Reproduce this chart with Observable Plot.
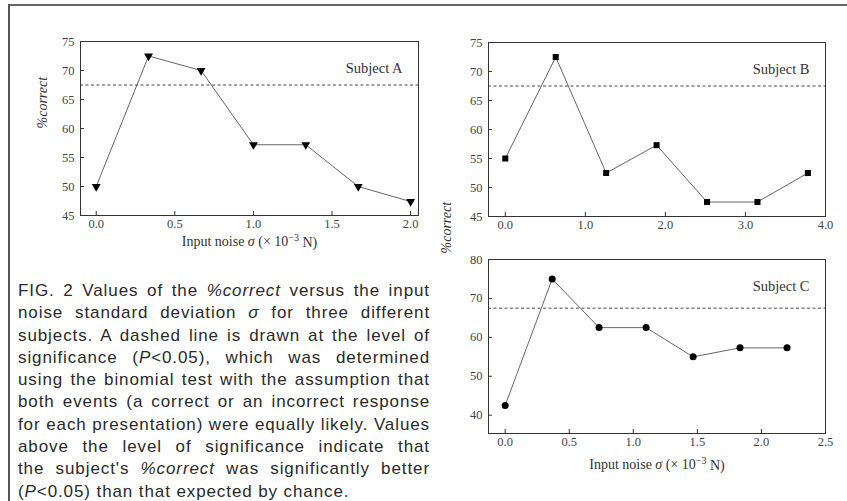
<!DOCTYPE html>
<html><head><meta charset="utf-8">
<script src="https://cdn.jsdelivr.net/npm/d3@7"></script>
<script src="https://cdn.jsdelivr.net/npm/@observablehq/plot@0.6"></script>
<style>
html,body{margin:0;padding:0;background:#fff;}
#wrap{position:relative;width:847px;height:501px;overflow:hidden;background:#fff;}
#box{position:absolute;left:8px;top:4px;width:845px;height:510px;border-left:2px solid #555;border-top:2px solid #666;}
.pl{position:absolute;}
#cap{position:absolute;left:18px;top:280px;width:412px;font-family:"Liberation Sans",Arial,sans-serif;font-size:17px;letter-spacing:0.9px;line-height:22.3px;color:#2a2a2a;}
#cap div{text-align:justify;text-align-last:justify;white-space:nowrap;}
#cap div.last{text-align-last:left;}
</style></head>
<body><div id="wrap"><div id="box"></div>
<div id="pa" class="pl" style="left:0;top:0"></div>
<div id="pb" class="pl" style="left:430px;top:0"></div>
<div id="pc" class="pl" style="left:430px;top:240px"></div>
<div id="cap">
<div>FIG. 2 Values of the <i>%correct</i> versus the input</div>
<div>noise standard deviation <i>σ</i> for three different</div>
<div>subjects. A dashed line is drawn at the level of</div>
<div>significance (<i>P</i>&lt;0.05), which was determined</div>
<div>using the binomial test with the assumption that</div>
<div>both events (a correct or an incorrect response</div>
<div>for each presentation) were equally likely. Values</div>
<div>above the level of significance indicate that</div>
<div>the subject's <i>%correct</i> was significantly better</div>
<div class="last">(<i>P</i>&lt;0.05) than that expected by chance.</div>
</div>
</div>
<script>
// Data
const aX = [0.0, 0.333, 0.667, 1.0, 1.333, 1.667, 2.0];
const aY = [50.0, 72.5, 70.0, 57.2, 57.2, 50.0, 47.4];
const bX = [0.0, 0.63, 1.26, 1.89, 2.52, 3.15, 3.78];
const bY = [55.0, 72.5, 52.5, 57.3, 47.5, 47.5, 52.5];
const cX = [0.0, 0.367, 0.733, 1.10, 1.467, 1.833, 2.2];
const cY = [42.5, 75.0, 62.5, 62.5, 55.0, 57.3, 57.3];
const significance = 67.5;
const subjects = ["Subject A", "Subject B", "Subject C"];
const aTicksX = [0, 0.5, 1.0, 1.5, 2.0];
const aTicksY = [45, 50, 55, 60, 65, 70, 75];
const bTicksX = [0, 1, 2, 3, 4];
const bTicksY = [45, 50, 55, 60, 65, 70, 75];
const cTicksX = [0, 0.5, 1.0, 1.5, 2.0, 2.5];
const cTicksY = [40, 50, 60, 70, 80];
const xLabel = "Input noise σ (× 10⁻³ N)";
const yLabel = "%correct";

const toRows = (xs, ys) => xs.map((x, i) => ({x, y: ys[i]}));

function panel({rows, xDomain, yDomain, xTicks, yTicks, symbol, rotate, r, subject, dims, xlab, xlabDy, ylab, ylabDy}) {
  const marks = [
    Plot.ruleY([significance], {stroke: "#333", strokeWidth: 0.9, strokeDasharray: "3,2.5"}),
    Plot.line(rows, {x: "x", y: "y", stroke: "#555", strokeWidth: 0.9}),
    Plot.dot(rows, {x: "x", y: "y", symbol, rotate, r, fill: "#000", stroke: "none"}),
    Plot.frame({stroke: "#333", strokeWidth: 1}),
    Plot.axisX({ticks: xTicks, tickSize: -4, tickFormat: () => "", label: null, stroke: "#333"}),
    Plot.axisX({ticks: xTicks, tickSize: 0, tickPadding: 4, tickFormat: d3.format(".1f"), label: null, fill: "#444"}),
    Plot.axisY({ticks: yTicks, tickSize: -4, tickFormat: () => "", label: null, stroke: "#333"}),
    Plot.axisY({ticks: yTicks, tickSize: 0, tickPadding: 6, tickFormat: d => String(d), label: null, fill: "#444"}),
    Plot.text([subject], {frameAnchor: "top-right", dx: -16, dy: 21, fontSize: 14.5, fill: "#333", textAnchor: "end"})
  ];
  if (xlab) marks.push(Plot.text([xLabel], {frameAnchor: "bottom", dy: xlabDy, fontSize: 14, fill: "#333", className: "xlab"}));
  if (ylab) marks.push(Plot.text([yLabel], {frameAnchor: ylab, dx: -38, dy: ylabDy || 0, rotate: -90, fontSize: 14, fontStyle: "italic", fill: "#333"}));
  const svg = Plot.plot({
    ...dims,
    style: {background: "transparent", fontFamily: "'Liberation Serif', 'Times New Roman', serif", fontSize: "12.5px", color: "#333", overflow: "visible"},
    x: {domain: xDomain},
    y: {domain: yDomain},
    marks
  });
  // italic sigma and raised exponent in the axis title
  d3.select(svg).selectAll("text").filter(function() { return this.textContent === xLabel; }).each(function() {
    const t = d3.select(this);
    t.text(null);
    t.append("tspan").text("Input noise ");
    t.append("tspan").attr("font-style", "italic").text("σ");
    t.append("tspan").text(" (× 10");
    t.append("tspan").attr("font-size", "10px").attr("dy", "-0.45em").text("−3");
    t.append("tspan").attr("dy", "0.45em").text(" N)");
  });
  return svg;
}

document.getElementById("pa").append(panel({
  rows: toRows(aX, aY), xDomain: [-0.1, 2.05], yDomain: [45, 75], xTicks: aTicksX, yTicks: aTicksY,
  symbol: "triangle", rotate: 180, r: 3.3, subject: subjects[0],
  dims: {width: 430, height: 260, marginLeft: 80, marginRight: 12, marginTop: 41, marginBottom: 45},
  xlab: true, xlabDy: 30, ylab: "left"
}));
document.getElementById("pb").append(panel({
  rows: toRows(bX, bY), xDomain: [-0.21, 4.0], yDomain: [45, 75], xTicks: bTicksX, yTicks: bTicksY,
  symbol: "square", rotate: 0, r: 3.4, subject: subjects[1],
  dims: {width: 417, height: 240, marginLeft: 58, marginRight: 22, marginTop: 42, marginBottom: 24},
  xlab: false, ylab: "bottom-left", ylabDy: 37
}));
document.getElementById("pc").append(panel({
  rows: toRows(cX, cY), xDomain: [-0.13, 2.5], yDomain: [35.3, 80], xTicks: cTicksX, yTicks: cTicksY,
  symbol: "circle", rotate: 0, r: 3.5, subject: subjects[2],
  dims: {width: 417, height: 261, marginLeft: 58, marginRight: 22, marginTop: 19, marginBottom: 68},
  xlab: true, xlabDy: 35, ylab: null
}));
</script></body></html>
